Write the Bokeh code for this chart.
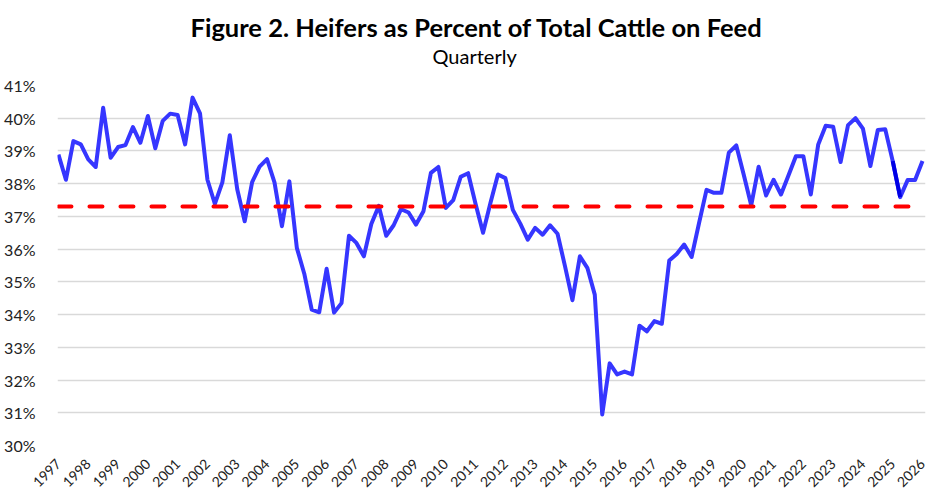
from bokeh.plotting import figure
from bokeh.models import Range1d, FixedTicker, PrintfTickFormatter, Title
from bokeh.embed import file_html
from bokeh.resources import INLINE
import math

YEARS = [str(y) for y in range(1997, 2027)]
HEIFER_PCT = [
    38.89, 38.12, 39.30, 39.20, 38.74, 38.51, 40.32, 38.79, 39.12, 39.18,
    39.73, 39.25, 40.07, 39.08, 39.92, 40.14, 40.10, 39.20, 40.63, 40.15,
    38.12, 37.38, 38.04, 39.48, 37.83, 36.85, 38.05, 38.52, 38.75, 38.04,
    36.70, 38.07, 36.04, 35.25, 34.15, 34.07, 35.40, 34.06, 34.35, 36.41,
    36.19, 35.78, 36.77, 37.32, 36.41, 36.73, 37.22, 37.12, 36.75, 37.16,
    38.33, 38.51, 37.26, 37.50, 38.21, 38.32, 37.38, 36.50, 37.42, 38.28,
    38.17, 37.20, 36.78, 36.29, 36.65, 36.44, 36.73, 36.47, 35.48, 34.44,
    35.78, 35.43, 34.61, 30.95, 32.51, 32.17, 32.26, 32.17, 33.66, 33.49,
    33.80, 33.72, 35.65, 35.85, 36.14, 35.76, 36.80, 37.81, 37.72, 37.72,
    38.95, 39.17, 38.27, 37.34, 38.52, 37.64, 38.12, 37.67, 38.25, 38.84,
    38.84, 37.67, 39.20, 39.77, 39.74, 38.66, 39.79, 40.00, 39.68, 38.54,
    39.64, 39.66, 38.69, 37.59, 38.11, 38.11, 38.69,
]
AVERAGE = 37.3
Y_TICKS = list(range(30, 42))
TITLE = "Figure 2. Heifers as Percent of Total Cattle on Feed"
SUBTITLE = "Quarterly"

idx = list(range(len(HEIFER_PCT)))
avg_line = [AVERAGE] * len(HEIFER_PCT)

p = figure(width=947, height=500, output_backend="svg", toolbar_location=None,
           x_range=Range1d(-0.13, 116.4), y_range=Range1d(30, 41),
           min_border_left=57, min_border_right=22, min_border_bottom=55,
           min_border_top=0)
p.outline_line_color = None
p.background_fill_color = "white"

# outermost spacer
p.title.text = " "
p.title.text_font = "Lato"
p.title.text_font_size = "6px"
p.title.standoff = 0

# above panels: first added is nearest the frame
gap = Title(text=" ", text_font="Lato", text_font_size="7px", standoff=8)
sub = Title(text=SUBTITLE, align="left", offset=375, text_font="Lato", text_font_size="20px",
            text_font_style="normal", text_color="#000000", standoff=0)
main = Title(text=TITLE, align="left", offset=133, text_font="Lato", text_font_size="25.5px",
             text_font_style="bold", text_color="#000000", standoff=0)
p.add_layout(gap, "above")
p.add_layout(sub, "above")
p.add_layout(main, "above")

# axes
p.xaxis.ticker = FixedTicker(ticks=[i * 4 for i in range(len(YEARS))])
p.xaxis.major_label_overrides = {i * 4: y for i, y in enumerate(YEARS)}
p.xaxis.major_label_orientation = math.pi / 4
p.yaxis.ticker = FixedTicker(ticks=Y_TICKS)
p.yaxis.formatter = PrintfTickFormatter(format="%d%%")
for ax in (p.xaxis, p.yaxis):
    ax.axis_line_color = None
    ax.major_tick_line_color = None
    ax.minor_tick_line_color = None
    ax.major_label_text_font = "Lato"
    ax.major_label_text_color = "#222222"
p.yaxis.major_label_text_font_size = "16px"
p.xaxis.major_label_text_font_size = "14px"
p.yaxis.major_label_standoff = 16
p.xaxis.major_label_standoff = 10

p.xgrid.grid_line_color = None
p.ygrid.ticker = FixedTicker(ticks=Y_TICKS)
p.ygrid.grid_line_color = "#d9d9d9"
p.ygrid.grid_line_width = 1.5

p.line(idx, HEIFER_PCT, line_color="#3636FF", line_width=4, line_join="round")
p.line(idx[112:114], HEIFER_PCT[112:114], line_color="#0000E6", line_width=4, line_join="round")
p.line(idx, avg_line, line_color="#FF0000", line_width=4, line_dash="13 18", line_cap="round")

open("out.html", "w").write(file_html(p, INLINE))
